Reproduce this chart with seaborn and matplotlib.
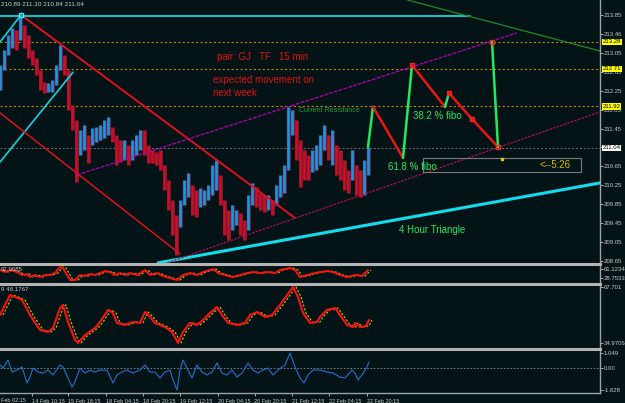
import numpy as np
import pandas as pd
import seaborn as sns
import matplotlib.pyplot as plt
from matplotlib.transforms import blended_transform_factory
from matplotlib.patches import Rectangle

# ---------------- data ----------------
# GJ 15 min bars, one column every 4 px of the time axis
bar_t = np.arange(0, 372, 4)
bar_high = [212.79, 213.11, 213.43, 213.58, 213.53, 213.85, 213.64, 213.43, 213.11, 212.94,
            212.69, 212.43, 212.41, 212.48, 212.79, 213.22, 213.00, 212.69, 211.95, 211.63,
            211.42, 211.53, 211.31, 211.46, 211.48, 211.53, 211.63, 211.70, 211.48, 211.31,
            211.21, 211.21, 211.10, 211.21, 211.31, 211.42, 211.42, 211.10, 211.00, 210.95,
            211.00, 210.68, 210.36, 209.94, 209.62, 209.94, 210.36, 210.51, 210.26, 210.15,
            210.19, 210.15, 210.26, 210.68, 210.79, 210.47, 209.94, 209.73, 209.83, 209.73,
            209.67, 209.52, 210.05, 210.30, 210.22, 210.09, 210.05, 210.05, 209.94, 210.26,
            210.47, 210.68, 211.91, 211.84, 211.63, 211.21, 211.00, 210.89, 211.00, 211.10,
            211.31, 211.53, 211.31, 211.42, 211.10, 211.00, 210.79, 210.57, 211.00, 210.68,
            210.57, 210.79, 211.06]
bar_low = [212.27, 212.69, 213.00, 213.15, 213.11, 213.32, 213.15, 212.94, 212.79, 212.58,
           212.27, 212.20, 212.22, 212.22, 212.37, 212.69, 212.58, 211.84, 211.42, 210.32,
           210.89, 211.00, 210.72, 211.10, 211.17, 211.21, 211.25, 211.31, 211.17, 210.68,
           210.74, 210.79, 210.68, 210.79, 210.89, 211.00, 210.89, 210.72, 210.72, 210.68,
           210.57, 210.15, 209.73, 209.20, 208.78, 209.37, 209.83, 210.00, 209.62, 209.58,
           209.79, 209.83, 209.94, 210.05, 210.15, 209.83, 209.20, 209.09, 209.31, 209.41,
           209.20, 209.09, 209.31, 209.83, 209.79, 209.73, 209.69, 209.73, 209.62, 209.83,
           210.00, 210.09, 210.57, 211.31, 210.79, 210.22, 210.36, 210.36, 210.53, 210.57,
           210.68, 211.00, 210.79, 210.68, 210.47, 210.36, 210.15, 210.09, 210.36, 210.05,
           210.00, 210.05, 210.47]

# projected path for next week (time, price)
proj_t = [368, 373, 403, 412, 445, 449, 472, 498, 492]
proj_p = [211.06, 211.91, 210.83, 212.79, 211.91, 212.20, 211.65, 211.06, 213.28]
proj_marks = [3, 5, 6, 7, 8]

# hand drawn lines: (t0, p0, t1, p1)
red_upper = (25, 213.79, 295, 209.56)
red_lower = (0, 211.78, 180, 208.80)
cyan_left = (0, 210.74, 73, 212.64)
cyan_top = (0, 213.28, 21, 213.85)
cyan_flat = (0, 213.83, 470, 213.83)
cyan_4h = (158, 208.61, 600, 210.30)
purple_chan = (77, 210.47, 517, 213.47)
crimson_chan = (160, 208.56, 600, 211.80)
green_line = (407, 214.17, 600, 213.09)
levels = [213.28, 212.71, 211.92]
last_price = 211.04

price_ticks = [208.65, 209.05, 209.45, 209.85, 210.25, 210.65, 211.05, 211.45,
               211.85, 212.25, 212.65, 213.05, 213.45, 213.85]
price_labels = ["208.65", "209.05", "209.45", "209.85", "210.25", "210.65", "211.05",
                "211.45", "211.85", "212.25", "212.65", "213.05", "213.46", "213.85"]

# indicator 1 (thin window)
ind1_t = [0, 5, 10, 17, 22, 27, 30, 35, 40, 45, 50, 55, 60, 63, 67, 70, 75, 80, 85, 90,
          95, 100, 105, 110, 115, 120, 125, 130, 137, 145, 150, 157, 163, 170, 177, 183,
          190, 197, 203, 213, 218, 225, 232, 240, 247, 253, 260, 267, 275, 280, 290, 295,
          300, 307, 315, 320, 327, 333, 340, 347, 355, 362, 368]
ind1_v = [57.5, 50.3, 57.5, 50.3, 39.5, 43.1, 32.3, 39.5, 32.3, 39.5, 39.5, 46.7, 68.3,
          64.7, 39.5, 21.5, 21.5, 39.5, 35.9, 43.1, 39.5, 46.7, 53.9, 50.3, 39.5, 46.7,
          39.5, 46.7, 39.5, 57.5, 39.5, 46.7, 35.9, 28.7, 21.5, 39.5, 46.7, 39.5, 50.3,
          61.1, 46.7, 39.5, 32.3, 39.5, 46.7, 50.3, 46.7, 50.3, 46.7, 57.5, 64.7, 57.5,
          32.3, 39.5, 46.7, 50.3, 53.9, 50.3, 39.5, 32.3, 39.5, 35.9, 57.5]

# indicator 2 (RSI like)
rsi_t = [0, 10, 15, 22, 30, 40, 48, 53, 60, 63, 68, 75, 78, 85, 95, 100, 108, 113, 117,
         125, 133, 140, 145, 150, 155, 165, 172, 178, 183, 190, 197, 203, 210, 217, 222,
         228, 237, 245, 250, 257, 265, 272, 280, 285, 293, 298, 303, 310, 317, 320, 327,
         335, 340, 347, 353, 355, 360, 366, 369]
rsi_v = [51.3, 63.0, 61.9, 60.1, 51.3, 42.6, 41.4, 43.7, 55.4, 57.2, 47.2, 36.7, 35.0,
         39.6, 43.7, 47.2, 54.3, 52.5, 46.7, 45.5, 47.2, 46.7, 53.1, 50.2, 46.7, 44.3,
         41.4, 35.0, 41.4, 46.7, 45.5, 48.4, 52.5, 56.0, 51.3, 46.7, 45.5, 46.7, 51.3,
         53.1, 50.2, 51.3, 57.2, 61.3, 67.7, 61.9, 52.5, 46.7, 47.2, 50.2, 54.3, 55.4,
         51.3, 45.5, 44.3, 46.7, 44.3, 44.9, 48.4]

# indicator 3 (momentum, blue)
mom_t = [0, 3, 8, 12, 17, 22, 27, 30, 33, 38, 43, 48, 53, 60, 63, 68, 72, 75, 80, 85,
         90, 95, 100, 107, 113, 117, 122, 127, 133, 140, 145, 150, 155, 160, 165, 170,
         173, 177, 180, 183, 187, 192, 197, 202, 207, 212, 217, 222, 227, 232, 237, 242,
         248, 253, 258, 263, 268, 273, 278, 285, 290, 295, 300, 304, 308, 313, 318, 320,
         327, 333, 340, 345, 352, 355, 358, 362, 367, 369]
mom_v = [0.18, -0.04, 0.54, -0.33, -0.18, 0.04, -1.12, -0.69, -0.04, -0.33, -0.40, -0.18,
         -0.54, 0.18, 0.04, -0.76, -1.41, -1.05, -0.04, -0.40, -0.18, -0.33, -0.18, -0.18,
         -1.12, -0.54, -0.33, -0.18, -0.40, -0.18, 0.18, -0.33, -0.33, -0.76, -0.33, -0.18,
         -0.90, -1.63, -0.18, 0.54, -0.04, -0.76, 0.18, -0.33, -0.54, -0.33, 0.33, -0.40,
         -0.54, -0.18, -0.69, -0.40, 0.33, -0.18, -0.40, -0.18, -0.04, -0.54, -0.18, 0.18,
         1.05, 0.04, -0.76, -1.12, -0.54, -0.18, -0.18, -0.18, -0.33, -0.40, -0.69, -0.76,
         -0.18, -0.40, -0.90, -0.54, 0.04, 0.40]

time_ticks = [31.5, 68, 105.5, 143, 180, 217.5, 254.5, 291.5, 329, 367]
time_labels = ["14 Feb 10:15", "15 Feb 18:15", "18 Feb 04:15", "18 Feb 20:15",
               "19 Feb 12:15", "20 Feb 04:15", "20 Feb 20:15", "21 Feb 12:15",
               "22 Feb 04:15", "22 Feb 20:15"]

# ---------------- style ----------------
BG = "#041416"
sns.set_style("dark", {"axes.facecolor": BG, "figure.facecolor": BG})
plt.rcParams["font.family"] = ["Liberation Sans", "DejaVu Sans"]
TICK = "#c8c8c8"
SEP = "#b4b4b4"
LAB = 4.3
XLAB = 4.0

fig = plt.figure(figsize=(6.25, 4.03), dpi=100)
ax = fig.add_axes([0, 0.3474, 0.96, 0.6526])
ax2 = fig.add_axes([0, 0.3002, 0.96, 0.0447])
ax3 = fig.add_axes([0, 0.1390, 0.96, 0.1563])
ax4 = fig.add_axes([0, 0.0248, 0.96, 0.1092])

for a in (ax, ax2, ax3, ax4):
    a.set_facecolor(BG)
    a.set_xlim(0, 600)
    a.grid(False)
    for s in a.spines.values():
        s.set_visible(False)
    a.spines["right"].set_visible(True)
    a.spines["right"].set_color("#a0a0a0")
    a.spines["right"].set_linewidth(1)
    a.yaxis.tick_right()
    a.tick_params(axis="y", colors=TICK, labelsize=LAB, length=2, width=0.6, pad=0.8,
                  direction="out")
    a.tick_params(axis="x", bottom=False, labelbottom=False)
for a in (ax2, ax3, ax4):
    a.spines["top"].set_visible(True)
    a.spines["top"].set_color(SEP)
    a.spines["top"].set_linewidth(2.2)
ax4.spines["bottom"].set_visible(True)
ax4.spines["bottom"].set_color("#a0a0a0")
ax4.spines["bottom"].set_linewidth(1)

# ---------------- main price window ----------------
ax.set_ylim(208.608, 214.167)
ax.set_yticks(price_ticks)
ax.set_yticklabels(price_labels)

for lv in levels:
    ax.axhline(lv, color="#b8860b", lw=0.8, ls=(0, (2, 2)), zorder=1)
ax.axhline(last_price, color="#6e6e6e", lw=0.7, ls=(0, (2, 2)), zorder=1)

bars = pd.DataFrame({"t": bar_t, "high": bar_high, "low": bar_low})
bars["mid"] = (bars["high"] + bars["low"]) / 2
bars["up"] = bars["mid"].diff().fillna(0) >= 0
upb = bars[bars["up"]]
dnb = bars[~bars["up"]]
ax.vlines(upb["t"], upb["low"], upb["high"], colors="#2590dc", lw=2.0, zorder=3)
ax.vlines(dnb["t"], dnb["low"], dnb["high"], colors="#c8102a", lw=2.0, zorder=3)
ax.vlines(bars["t"] + 1.6, bars["low"], bars["high"], colors="#b02040", lw=0.6,
          zorder=3, alpha=0.8)


def seg(line, **kw):
    t0, p0, t1, p1 = line
    ax.plot([t0, t1], [p0, p1], **kw)


seg(cyan_flat, color="#14d2e0", lw=1.3, zorder=2)
seg(cyan_top, color="#14d2e0", lw=1.2, zorder=2)
seg(cyan_left, color="#14d2e0", lw=1.2, zorder=4)
seg(cyan_4h, color="#14dcec", lw=2.2, zorder=4)
seg(red_upper, color="#e01020", lw=1.4, zorder=4)
seg(red_lower, color="#e01020", lw=1.1, zorder=4)
seg(purple_chan, color="#b400b4", lw=0.9, ls=(0, (3, 1)), zorder=4)
seg(crimson_chan, color="#b0104a", lw=0.9, ls=(0, (2, 1)), zorder=4)
seg(green_line, color="#1e8a2a", lw=0.9, zorder=2)
ax.plot([cyan_top[2]], [cyan_top[3]], marker="s", ms=3.5, mfc="none", mec="#40f0ff",
        mew=1, zorder=5)

# projected zigzag
for i in range(len(proj_t) - 1):
    up = proj_p[i + 1] > proj_p[i]
    ax.plot(proj_t[i:i + 2], proj_p[i:i + 2], color="#22e860" if up else "#ee1414",
            lw=1.8, zorder=6, solid_capstyle="round")
ax.plot([proj_t[i] for i in proj_marks], [proj_p[i] for i in proj_marks], ls="none",
        marker="s", ms=3, mfc="none", mec="#ff2020", mew=1, zorder=7)
ax.plot([502], [210.81], ls="none", marker="s", ms=1.5, color="#e8c800", zorder=7)

# annotation box and texts
ax.add_patch(Rectangle((423, 210.53), 158, 0.30, fill=False, ec="#7a7a7a", lw=0.8,
                       zorder=5))
ax.text(1, 214.08, "210.89 211.10 210.84 211.04", color="#c8c8c8", fontsize=4.6,
        va="center", ha="left")
ax.text(217, 212.96, "pair: GJ   TF : 15 min", color="#e01010", fontsize=7, va="center")
ax.text(213, 212.48, "expected movement on", color="#e01010", fontsize=7, va="center")
ax.text(213, 212.20, "next week", color="#e01010", fontsize=7, va="center")
ax.text(299, 211.84, "Current Resistance", color="#1e9e3c", fontsize=5, va="center")
ax.text(413, 211.72, "38.2 % fibo", color="#22e860", fontsize=7, va="center", zorder=8)
ax.text(388, 210.64, "61.8 % fibo", color="#22e860", fontsize=7, va="center", zorder=8)
ax.text(540, 210.68, "<--5:26", color="#d8b800", fontsize=7, va="center", zorder=8)
ax.text(399, 209.30, "4 Hour Triangle", color="#22e860", fontsize=7, va="center")

tr = blended_transform_factory(ax.transAxes, ax.transData)
for lv in levels:
    ax.text(1.004, lv, f"{lv:.2f}", transform=tr, fontsize=LAB, color="black",
            va="center", ha="left", zorder=10, clip_on=False,
            bbox=dict(boxstyle="square,pad=0.12", fc="#ffff00", ec="none"))
ax.text(1.004, last_price, f"{last_price:.2f}", transform=tr, fontsize=LAB,
        color="black", va="center", ha="left", zorder=10, clip_on=False,
        bbox=dict(boxstyle="square,pad=0.12", fc="white", ec="none"))

# ---------------- indicator windows ----------------
lag = 3
ax2.set_ylim(14.4, 79.1)
ax2.set_yticks([61.1234, 28.7533])
ax2.set_yticklabels(["61.1234", "28.7533"])
sns.lineplot(x=[t + lag for t in ind1_t], y=ind1_v, ax=ax2, color="#c8c800", lw=0.8,
             ls=(0, (2, 1.5)))
sns.lineplot(x=ind1_t, y=ind1_v, ax=ax2, color="#ff1010", lw=1.4)
ax2.text(0.002, 0.7, "62.9685", transform=ax2.transAxes, color="#c8c8c8", fontsize=4.4,
         va="center", ha="left")

ax3.set_ylim(32.63, 69.45)
ax3.set_yticks([67.701, 34.9706])
ax3.set_yticklabels(["67.701", "34.9706"])
sns.lineplot(x=[t + lag for t in rsi_t], y=rsi_v, ax=ax3, color="#c8c800", lw=0.8,
             ls=(0, (2, 1.5)))
sns.lineplot(x=rsi_t, y=rsi_v, ax=ax3, color="#ff1010", lw=1.5)
ax3.text(0.002, 0.92, "9 48.1767", transform=ax3.transAxes, color="#c8c8c8",
         fontsize=4.4, va="center", ha="left")

ax4.set_ylim(-1.845, 1.34)
ax4.set_yticks([1.049, 0.0, -1.628])
ax4.set_yticklabels(["1.049", "0.00", "-1.628"])
ax4.axhline(0, color="#8a8a8a", lw=0.6, ls=(0, (2, 2)))
sns.lineplot(x=mom_t, y=mom_v, ax=ax4, color="#2070d0", lw=0.8)

ax4.set_xticks(time_ticks)
ax4.set_xticklabels(time_labels, ha="left")
ax4.tick_params(axis="x", bottom=True, labelbottom=True, colors=TICK, labelsize=XLAB,
                length=2.5, width=0.6, pad=1.5)
ax4.text(0.002, -0.12, "Feb 02:15", transform=ax4.transAxes, color=TICK, fontsize=XLAB,
         va="top", ha="left")
for a in (ax2, ax3, ax4):
    a.set_xlabel("")
    a.set_ylabel("")
    a.set_xlim(0, 600)

fig.savefig("out.png", dpi=100, facecolor=BG)
